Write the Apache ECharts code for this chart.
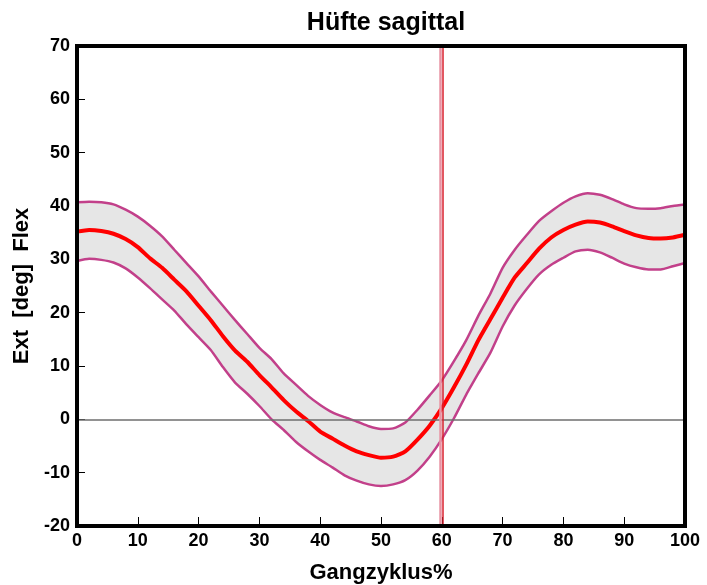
<!DOCTYPE html>
<html>
<head>
<meta charset="utf-8">
<script src="https://cdn.jsdelivr.net/npm/echarts@6/dist/echarts.min.js"></script>
<style>
  html, body { margin: 0; padding: 0; background: #fff; }
  #chart { width: 707px; height: 585px; }
</style>
</head>
<body>
<div id="chart"></div>
<script>
// Gait cycle percentage (0..100 in steps of 2)
const cycle = [];
for (let i = 0; i <= 100; i += 2) cycle.push(i);

// Hip sagittal angle: mean and ±SD band (deg)
const meanAngle = [
  35.2, 35.5, 35.3, 34.8, 33.8, 32.3, 30.2, 28.4, 26.2, 24.0,
  21.3, 18.6, 15.6, 12.9, 10.8, 8.3, 6.0, 3.6, 1.5, -0.3,
  -2.3, -3.6, -4.9, -6.0, -6.7, -7.2, -7.0, -6.0, -3.8, -1.2,
  2.1, 6.0, 10.2, 14.8, 18.8, 22.8, 26.6, 29.3, 32.0, 34.1,
  35.5, 36.5, 37.1, 36.9, 36.2, 35.3, 34.5, 34.0, 33.9, 34.1,
  34.6
];
const upperAngle = [
  40.7, 40.8, 40.7, 40.3, 39.3, 38.0, 36.3, 34.3, 31.8, 29.3,
  26.8, 24.0, 21.3, 18.6, 16.0, 13.4, 11.3, 8.6, 6.5, 4.4,
  2.7, 1.3, 0.4, -0.4, -1.3, -1.8, -1.7, -0.6, 1.8, 4.5,
  7.3, 10.9, 14.8, 19.4, 23.6, 28.4, 31.8, 34.6, 37.2, 39.0,
  40.6, 41.8, 42.4, 42.1, 41.3, 40.3, 39.6, 39.5, 39.6, 40.0,
  40.3
];
const lowerAngle = [
  29.7, 30.1, 29.9, 29.4, 28.3, 26.6, 24.6, 22.5, 20.4, 17.8,
  15.4, 13.0, 9.8, 6.9, 4.8, 2.5, 0.0, -2.0, -4.2, -6.0,
  -7.6, -9.0, -10.5, -11.5, -12.2, -12.5, -12.2, -11.4, -9.6, -7.0,
  -3.7, 0.2, 4.6, 8.6, 12.5, 17.4, 21.4, 24.5, 27.2, 29.0,
  30.3, 31.5, 31.8, 31.3, 30.3, 29.2, 28.5, 28.1, 28.1, 28.7,
  29.3
];

// Toe-off markers (% of gait cycle)
const toeOffRef = 59.7;
const toeOffPatient = 60.2;

const xTicks = [0, 10, 20, 30, 40, 50, 60, 70, 80, 90, 100];
const yTicks = [-20, -10, 0, 10, 20, 30, 40, 50, 60, 70];

const pairs = (ys) => cycle.map((x, i) => [x, ys[i]]);

const font = 'Liberation Sans, Arial, sans-serif';
const bandColor = '#c2408a';

// Grey SD corridor: polygon running along the upper bound and back along the lower bound
function renderBand(params, api) {
  const pts = [];
  for (let i = 0; i < cycle.length; i++) pts.push(api.coord([cycle[i], upperAngle[i]]));
  for (let i = cycle.length - 1; i >= 0; i--) pts.push(api.coord([cycle[i], lowerAngle[i]]));
  return {
    type: 'polygon',
    shape: { points: pts },
    style: { fill: '#e6e6e6', stroke: 'none' }
  };
}

const chart = echarts.init(document.getElementById('chart'), null, { renderer: 'canvas' });
chart.setOption({
  animation: false,
  backgroundColor: '#ffffff',
  title: {
    text: 'Hüfte sagittal',
    left: 381,
    textAlign: 'center',
    top: 6,
    textStyle: { fontFamily: font, fontWeight: 'bold', fontSize: 25, color: '#000' }
  },
  grid: {
    left: 77, right: 22, top: 46, bottom: 59,
    containLabel: false,
    outerBoundsMode: 'none',
    show: true,
    borderWidth: 4,
    borderColor: '#000',
    backgroundColor: 'transparent',
    z: 10
  },
  xAxis: {
    type: 'value',
    min: xTicks[0],
    max: xTicks[xTicks.length - 1],
    interval: 10,
    name: 'Gangzyklus%',
    nameLocation: 'middle',
    nameGap: 36,
    nameTextStyle: { fontFamily: font, fontWeight: 'bold', fontSize: 22, color: '#000' },
    axisLine: { show: false, onZero: false },
    axisTick: { show: true, inside: true, length: 9, lineStyle: { color: '#000', width: 1 } },
    axisLabel: { margin: 6, fontFamily: font, fontWeight: 'bold', fontSize: 18, color: '#000' },
    splitLine: { show: false }
  },
  yAxis: {
    type: 'value',
    min: yTicks[0],
    max: yTicks[yTicks.length - 1],
    interval: 10,
    name: 'Ext  [deg]  Flex',
    nameLocation: 'middle',
    nameGap: 44,
    nameTextStyle: { fontFamily: font, fontWeight: 'bold', fontSize: 22, color: '#000' },
    axisLine: { show: false, onZero: false },
    axisTick: { show: true, inside: true, length: 8, lineStyle: { color: '#000', width: 1 } },
    axisLabel: { margin: 7, fontFamily: font, fontWeight: 'bold', fontSize: 18, color: '#000' },
    splitLine: { show: false }
  },
  series: [
    {
      name: 'band',
      type: 'custom',
      renderItem: renderBand,
      data: [[0, 0]],
      silent: true,
      clip: true,
      z: 1
    },
    {
      name: 'zero',
      type: 'line',
      data: [],
      markLine: {
        silent: true,
        symbol: 'none',
        label: { show: false },
        data: [{ yAxis: 0 }],
        lineStyle: { color: '#6e6e6e', width: 1.5, type: 'solid' }
      },
      z: 2
    },
    {
      name: 'upper',
      type: 'line',
      data: pairs(upperAngle),
      symbol: 'none',
      smooth: 0.2,
      lineStyle: { color: bandColor, width: 2.5 },
      z: 3
    },
    {
      name: 'lower',
      type: 'line',
      data: pairs(lowerAngle),
      symbol: 'none',
      smooth: 0.2,
      lineStyle: { color: bandColor, width: 2.5 },
      z: 3
    },
    {
      name: 'mean',
      type: 'line',
      data: pairs(meanAngle),
      symbol: 'none',
      smooth: 0.2,
      lineStyle: { color: '#ff0000', width: 4 },
      z: 4
    },
    {
      name: 'toeOff',
      type: 'line',
      data: [],
      z: 5,
      markLine: {
        silent: true,
        symbol: 'none',
        label: { show: false },
        data: [
          { xAxis: toeOffRef, lineStyle: { color: '#e894a4', width: 2.5, type: 'solid' } },
          { xAxis: toeOffPatient, lineStyle: { color: '#d8202e', width: 1.5, type: 'solid' } }
        ]
      }
    }
  ]
});
</script>
</body>
</html>
